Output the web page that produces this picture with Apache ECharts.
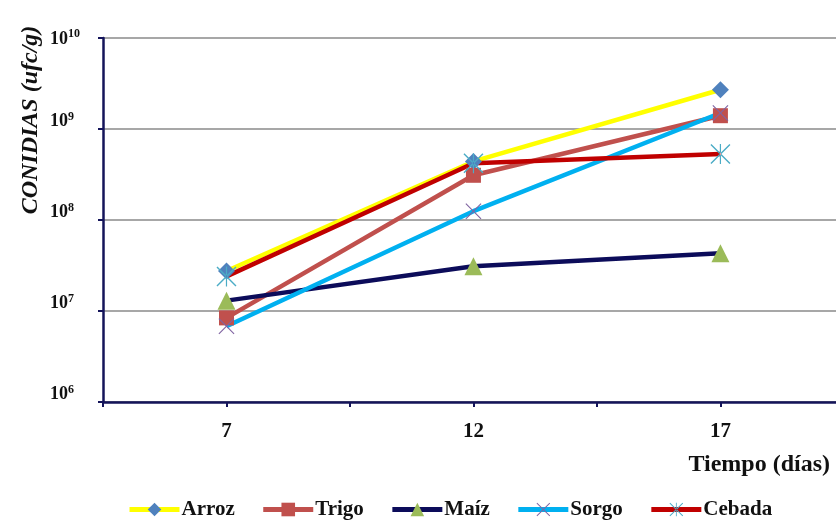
<!DOCTYPE html>
<html>
<head>
<meta charset="utf-8">
<script src="https://cdn.jsdelivr.net/npm/echarts@6/dist/echarts.min.js"></script>
<style>
  html, body { margin: 0; padding: 0; background: #ffffff; }
  #chart { width: 836px; height: 522px; }
</style>
</head>
<body>
<div id="chart"></div>
<script>
// Incubation time (days) and conidia counts (ufc/g) per substrate
const days = [7, 12, 17];
const arroz  = [2.75e7, 4.4e8, 2.7e9];
const trigo  = [8.4e6, 3.1e8, 1.4e9];
const maiz   = [1.3e7, 3.1e7, 4.3e7];
const sorgo  = [6.8e6, 1.25e8, 1.5e9];
const cebada = [2.4e7, 4.2e8, 5.3e8];

const xTicks = [4.5, 7, 9.5, 12, 14.5, 17];
const seriesNames = ['Arroz', 'Trigo', 'Maíz', 'Sorgo', 'Cebada'];

const SERIF = '"Liberation Serif", "DejaVu Serif", serif';
const NAVY = '#14145a';

// thin-stroke markers drawn as filled outlines
const xMark = 'path://M0,1 L1,0 L10,9 L19,0 L20,1 L11,10 L20,19 L19,20 L10,11 L1,20 L0,19 L9,10 Z';
const starMark = 'path://M0,1 L1,0 L10,9 L19,0 L20,1 L11,10 L20,19 L19,20 L10,11 L1,20 L0,19 L9,10 Z M9.4,0 L9.4,20 L10.6,20 L10.6,0 Z';

function pairs(vals) { return days.map((d, i) => [d, vals[i]]); }

function line(name, vals, lineColor, symbol, symColor, size) {
  return {
    name: name,
    type: 'line',
    data: pairs(vals),
    symbol: symbol,
    symbolSize: size,
    symbolKeepAspect: true,
    showAllSymbol: true,
    lineStyle: { color: lineColor, width: 4.5 },
    itemStyle: { color: symColor, borderWidth: 0 },
    emphasis: { disabled: true },
    z: 2
  };
}

// "10^n" tick labels; the top one sits on its gridline, the rest just above theirs
function powerLabel(v) {
  const n = Math.round(Math.log10(v));
  const main = '{b|10}{e|' + n + '}';
  return n === 10 ? main : main + '\n{sp|}';
}

const labelText = { fontFamily: SERIF, fontWeight: 'bold', color: '#111' };

const chart = echarts.init(document.getElementById('chart'), null, { renderer: 'canvas' });
chart.setOption({
  backgroundColor: '#ffffff',
  animation: false,
  grid: { left: 103, right: 0, top: 38, bottom: 120, containLabel: false },
  xAxis: {
    type: 'value',
    min: 4.5,
    max: 19.34,
    axisLine: { show: true, lineStyle: { color: NAVY, width: 2.5 } },
    axisTick: { show: true, customValues: xTicks, length: 5, lineStyle: { color: NAVY, width: 2 } },
    axisLabel: Object.assign({
      customValues: days,
      margin: 19,
      fontSize: 21
    }, labelText),
    splitLine: { show: false }
  },
  yAxis: {
    type: 'log',
    logBase: 10,
    min: 1e6,
    max: 1e10,
    axisLine: { show: true, lineStyle: { color: NAVY, width: 2.5 } },
    axisTick: { show: true, length: 5, lineStyle: { color: NAVY, width: 2 } },
    splitLine: { show: true, lineStyle: { color: '#8a8a8a', width: 1.5 } },
    axisLabel: {
      margin: 53,
      align: 'left',
      verticalAlign: 'middle',
      formatter: powerLabel,
      rich: {
        b: Object.assign({ fontSize: 18, lineHeight: 20, verticalAlign: 'bottom' }, labelText),
        e: Object.assign({ fontSize: 12, lineHeight: 20, verticalAlign: 'top' }, labelText),
        sp: { fontSize: 10, lineHeight: 17 }
      }
    }
  },
  legend: {
    left: 122,
    top: 494,
    itemWidth: 50,
    itemHeight: 17,
    itemGap: 26,
    lineStyle: { width: 5 },
    textStyle: Object.assign({ fontSize: 21, padding: [0, 0, 0, -3] }, labelText),
    data: seriesNames
  },
  graphic: [
    {
      type: 'text',
      x: 31, y: 120,
      rotation: Math.PI / 2,
      style: {
        text: 'CONIDIAS (ufc/g)',
        font: 'italic bold 24px ' + SERIF,
        fill: '#111',
        align: 'center',
        verticalAlign: 'middle'
      }
    },
    {
      type: 'text',
      x: 830, y: 465,
      style: {
        text: 'Tiempo (días)',
        font: 'bold 24px ' + SERIF,
        fill: '#111',
        align: 'right',
        verticalAlign: 'middle'
      }
    }
  ],
  series: [
    line(seriesNames[0], arroz, '#ffff00', 'diamond', '#4f81bd', 17),
    line(seriesNames[1], trigo, '#c0504d', 'rect', '#c0504d', 15),
    line(seriesNames[2], maiz, '#0c0c5a', 'triangle', '#9bbb59', 18),
    line(seriesNames[3], sorgo, '#00b0f0', xMark, '#8064a2', 16),
    line(seriesNames[4], cebada, '#c00000', starMark, '#4bacc6', 20)
  ]
});
</script>
</body>
</html>
